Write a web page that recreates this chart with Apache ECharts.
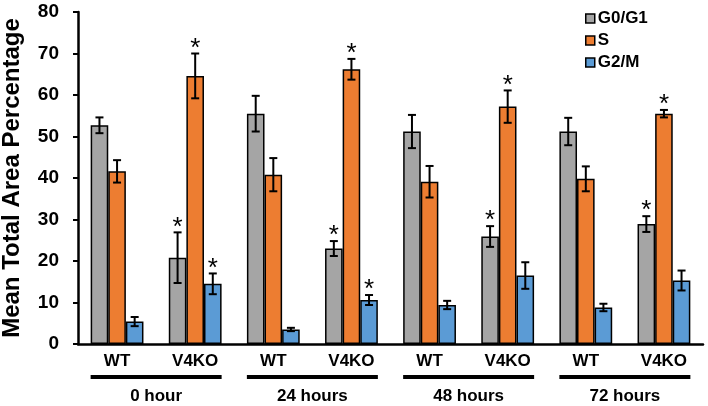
<!DOCTYPE html>
<html>
<head>
<meta charset="utf-8">
<script src="https://cdn.jsdelivr.net/npm/echarts@6/dist/echarts.min.js"></script>
<style>html,body{margin:0;padding:0;background:#fff;}#c{width:708px;height:406px;}</style>
</head>
<body>
<div id="c"></div>
<script>
var categories = ['WT', 'V4KO', 'WT', 'V4KO', 'WT', 'V4KO', 'WT', 'V4KO'];
var groups = ['0 hour', '24 hours', '48 hours', '72 hours'];
var seriesNames = ['G0/G1', 'S', 'G2/M'];
var g0g1 = [52.7, 20.8, 55.5, 23.0, 51.2, 25.9, 51.2, 28.9];
var g0g1Err = [1.9, 6.1, 4.3, 1.8, 4.0, 2.5, 3.3, 1.9];
var g0g1Sig = [0, 1, 0, 1, 0, 1, 0, 1];
var sPhase = [41.6, 64.6, 40.8, 66.2, 39.1, 57.2, 39.8, 55.5];
var sErr = [2.7, 5.4, 4.0, 2.5, 3.8, 3.9, 3.0, 0.9];
var sSig = [0, 1, 0, 1, 0, 1, 0, 1];
var g2m = [5.4, 14.5, 3.5, 10.6, 9.4, 16.5, 8.8, 15.3];
var g2mErr = [1.1, 2.5, 0.4, 1.2, 1.0, 3.2, 0.9, 2.4];
var g2mSig = [0, 1, 0, 1, 0, 0, 0, 0];
var yTicks = [0, 10, 20, 30, 40, 50, 60, 70, 80];

var colors = ['#A5A5A5', '#ED7D31', '#5B9BD5'];
var FONT = 'Liberation Sans';
var BAR_W = 17.6;

var values = [g0g1, sPhase, g2m];
var errs = [g0g1Err, sErr, g2mErr];
var sigs = [g0g1Sig, sSig, g2mSig];

var chart = echarts.init(document.getElementById('c'), null, {renderer: 'canvas'});

function errSeries(k) {
  var data = values[k].map(function (v, i) { return [i, v, errs[k][i], sigs[k][i]]; });
  return {
    type: 'custom',
    name: 'err' + k,
    xAxisIndex: 0,
    yAxisIndex: 0,
    z: 10,
    encode: {x: 0, y: 1},
    data: data,
    renderItem: function (params, api) {
      var xi = api.value(0), v = api.value(1), e = api.value(2), sig = api.value(3);
      var top = api.coord([xi, v + e]);
      var bot = api.coord([xi, v - e]);
      var x = top[0] + (k - 1) * BAR_W;
      var cap = 4;
      var children = [
        {type: 'line', shape: {x1: x, y1: top[1], x2: x, y2: bot[1]}, style: {stroke: '#000', lineWidth: 2}},
        {type: 'line', shape: {x1: x - cap, y1: top[1], x2: x + cap, y2: top[1]}, style: {stroke: '#000', lineWidth: 2}},
        {type: 'line', shape: {x1: x - cap, y1: bot[1], x2: x + cap, y2: bot[1]}, style: {stroke: '#000', lineWidth: 2}}
      ];
      if (sig) {
        children.push({type: 'text', style: {text: '*', x: x, y: top[1] - 5, align: 'center', verticalAlign: 'middle', font: '26px "' + FONT + '"', fill: '#000'}});
      }
      return {type: 'group', children: children};
    }
  };
}

var series = [];
for (var k = 0; k < 3; k++) {
  series.push({
    type: 'bar',
    name: seriesNames[k],
    data: values[k],
    barWidth: BAR_W,
    barGap: '0%',
    itemStyle: {color: colors[k], borderColor: '#000', borderWidth: 1.5},
    emphasis: {disabled: true}
  });
}
for (var k2 = 0; k2 < 3; k2++) series.push(errSeries(k2));

var option = {
  animation: false,
  backgroundColor: '#fff',
  grid: {left: 78, right: 5, top: 12, bottom: 62, containLabel: false, outerBoundsMode: 'none'},
  legend: {
    data: seriesNames,
    orient: 'vertical',
    left: 580,
    top: 5,
    icon: 'rect',
    itemWidth: 9,
    itemHeight: 9,
    itemGap: 5,
    textStyle: {fontFamily: FONT, fontWeight: 'bold', fontSize: 17, color: '#000', padding: [0, 0, 0, -2]},
    itemStyle: {borderColor: '#000', borderWidth: 1.5}
  },
  xAxis: [{
    type: 'category',
    data: categories,
    gridIndex: 0,
    position: 'bottom',
    axisLine: {lineStyle: {color: '#000', width: 2.5}},
    axisTick: {show: false},
    axisLabel: {fontFamily: FONT, fontWeight: 'bold', fontSize: 17, color: '#000', margin: 9, interval: 0}
  }, {
    type: 'category',
    data: groups,
    gridIndex: 0,
    position: 'bottom',
    offset: 31,
    axisLine: {show: false},
    axisTick: {show: false},
    axisLabel: {
      margin: 0,
      interval: 0,
      formatter: function (v) { return '{line|}\n{txt|' + v + '}'; },
      rich: {
        line: {width: 131, height: 4, backgroundColor: '#000'},
        txt: {fontFamily: FONT, fontWeight: 'bold', fontSize: 17, color: '#000', lineHeight: 20, padding: [15, 0, 0, 0]}
      }
    }
  }],
  yAxis: {
    type: 'value',
    min: yTicks[0],
    max: yTicks[yTicks.length - 1],
    interval: 10,
    name: 'Mean Total Area Percentage',
    nameLocation: 'middle',
    nameGap: 54,
    nameTextStyle: {fontFamily: FONT, fontWeight: 'bold', fontSize: 24, color: '#000'},
    axisLine: {show: true, lineStyle: {color: '#000', width: 2.5}},
    axisTick: {show: true, length: 5, lineStyle: {color: '#000', width: 2}},
    splitLine: {show: false},
    axisLabel: {fontFamily: FONT, fontWeight: 'bold', fontSize: 19, color: '#000', margin: 19}
  },
  series: series
};
chart.setOption(option);
</script>
</body>
</html>
